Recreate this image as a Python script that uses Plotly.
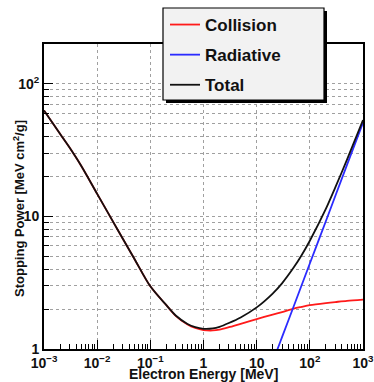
import plotly.graph_objects as go

# ---- data ----
energy = [0.001, 0.002, 0.003, 0.005, 0.01, 0.02, 0.03, 0.05, 0.1, 0.2, 0.3, 0.5, 0.7,
          1, 1.5, 2, 3, 5, 10, 20, 30, 50, 70, 100, 200, 300, 500, 1000]
collision = [63, 42, 33.2, 24.1, 14.8, 9.1, 6.85, 4.8, 2.97, 2.14, 1.78, 1.53, 1.44,
             1.39, 1.38, 1.40, 1.46, 1.55, 1.68, 1.82, 1.90, 2.02, 2.08, 2.14, 2.22, 2.26, 2.31, 2.36]
total = [63, 42, 33.2, 24.1, 14.8, 9.1, 6.85, 4.8, 2.97, 2.14, 1.79, 1.545, 1.46,
         1.42, 1.43, 1.47, 1.57, 1.73, 2.06, 2.62, 3.13, 4.13, 5.1, 6.56, 11.4, 16.5, 26.8, 53.4]
rad_energy = [20, 24.7, 30, 50, 100, 200, 500, 1000]
radiative = [0.8, 1.0, 1.23, 2.11, 4.42, 9.2, 24.5, 51]

x_tickvals = [1e-3, 1e-2, 1e-1, 1, 10, 100, 1000]
x_ticktext = ["10<sup>\u22123</sup>", "10<sup>\u22122</sup>", "10<sup>\u22121</sup>",
              "1", "10", "10<sup>2</sup>", "10<sup>3</sup>"]
y_tickvals = [1, 10, 100]
y_ticktext = ["1", "10", "10<sup>2</sup>"]

series_names = ["Collision", "Radiative", "Total"]
series_colors = ["#ff1a1a", "#2b2bff", "#111111"]

# ---- layout geometry ----
W, H = 374, 382
L, R, T, B = 44, 11, 44, 33
PW, PH = W - L - R, H - T - B


def px_x(p):
    return (p - L) / PW


def px_y(p):
    return (H - B - p) / PH


FONT = "Liberation Sans, Arial, Helvetica, sans-serif"

fig = go.Figure()
fig.add_trace(go.Scatter(x=energy, y=collision, mode="lines", name=series_names[0],
                         legendgroup="a",
                         line=dict(color=series_colors[0], width=1.8, shape="spline", smoothing=0.8)))
fig.add_trace(go.Scatter(x=rad_energy, y=radiative, mode="lines", name=series_names[1],
                         legendgroup="b",
                         line=dict(color=series_colors[1], width=1.8, shape="spline", smoothing=0.8)))
fig.add_trace(go.Scatter(x=energy, y=total, mode="lines", name=series_names[2],
                         legendgroup="c",
                         line=dict(color=series_colors[2], width=1.8, shape="spline", smoothing=0.8)))

grid = dict(showgrid=True, gridcolor="#a0a0a0", griddash="dot", gridwidth=1)

fig.update_xaxes(type="log", range=[-3, 3], tickmode="array",
                 tickvals=x_tickvals, ticktext=x_ticktext, automargin=False,
                 ticklabeloverflow="allow",
                 ticks="inside", ticklen=9, tickwidth=1, tickcolor="black",
                 showline=True, linecolor="black", linewidth=2, mirror=True,
                 zeroline=False,
                 tickfont=dict(family=FONT, size=14, color="#111", weight="bold"),
                 minor=dict(ticks="inside", ticklen=5, tickcolor="black", dtick="D1",
                            showgrid=False),
                 **grid)
fig.update_yaxes(type="log", range=[0, 2.301], tickmode="array",
                 tickvals=y_tickvals, ticktext=y_ticktext, automargin=False,
                 ticklabeloverflow="allow",
                 ticks="inside", ticklen=9, tickwidth=1, tickcolor="black",
                 showline=True, linecolor="black", linewidth=2, mirror=True,
                 zeroline=False,
                 tickfont=dict(family=FONT, size=14, color="#111", weight="bold"),
                 minor=dict(ticks="inside", ticklen=5, tickcolor="black", dtick="D1",
                            showgrid=True, gridcolor="#a0a0a0", griddash="dot", gridwidth=1),
                 **grid)

# legend box (with drop shadow) drawn as shapes, legend entries drawn by plotly on top
box = (163, 8, 324, 100)
shapes = [
    dict(type="rect", xref="paper", yref="paper", layer="above",
         x0=px_x(box[0] + 3), x1=px_x(box[2] + 3), y0=px_y(box[3] + 3), y1=px_y(box[1] + 3),
         fillcolor="black", line=dict(width=0)),
    dict(type="rect", xref="paper", yref="paper", layer="above",
         x0=px_x(box[0]), x1=px_x(box[2]), y0=px_y(box[3]), y1=px_y(box[1]),
         fillcolor="#f2f2f2", line=dict(color="black", width=1.2)),
]

annotations = [
    dict(text="Electron Energy [MeV]", xref="paper", yref="paper",
         x=px_x(203), y=px_y(374), xanchor="center", yanchor="middle", showarrow=False,
         font=dict(family=FONT, size=14, color="#111", weight="bold")),
    dict(text="Stopping Power [MeV cm<sup>2</sup>/g]", xref="paper", yref="paper",
         x=px_x(19), y=px_y(209), xanchor="center", yanchor="middle", showarrow=False,
         textangle=-90,
         font=dict(family=FONT, size=13, color="#111", weight="bold")),
]

fig.update_layout(
    width=W, height=H,
    margin=dict(l=L, r=R, t=T, b=B, pad=0, autoexpand=False),
    paper_bgcolor="white", plot_bgcolor="white",
    font=dict(family=FONT, color="black"),
    showlegend=True,
    legend=dict(x=px_x(165), y=px_y(7), xanchor="left", yanchor="top",
                bgcolor="rgba(0,0,0,0)", borderwidth=0, tracegroupgap=5,
                font=dict(family=FONT, size=17, color="#111", weight="bold")),
    shapes=shapes,
    annotations=annotations,
)

fig.write_html("out.html")
